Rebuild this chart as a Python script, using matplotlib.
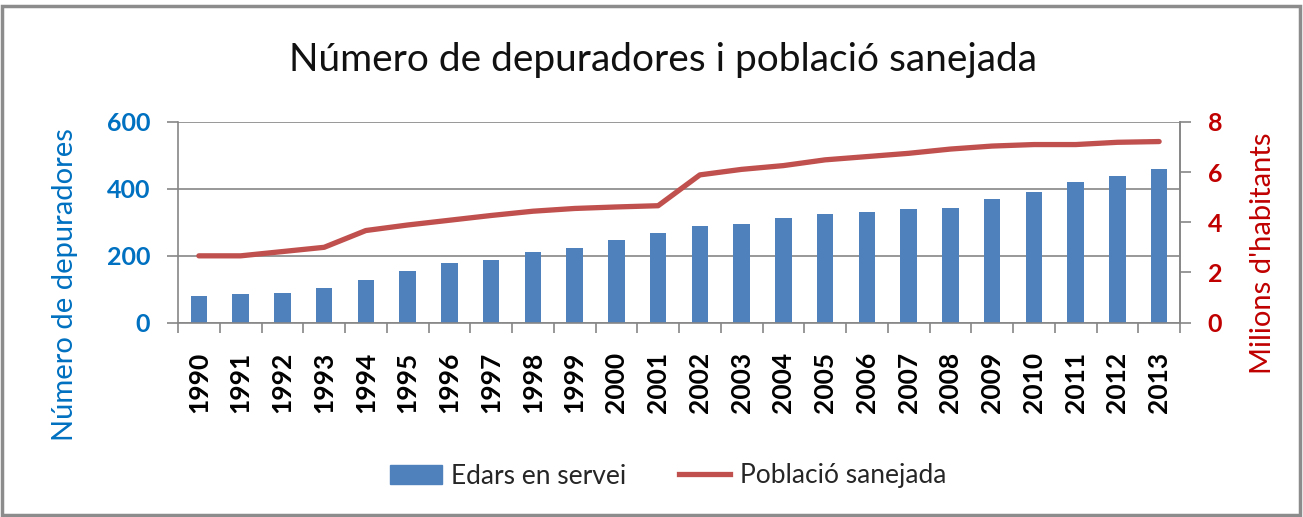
import matplotlib.pyplot as plt
import numpy as np
from matplotlib.patches import Patch, Rectangle
from matplotlib.lines import Line2D

# ---- data ----
years = [str(y) for y in range(1990, 2014)]
edars = [80, 85, 89, 102, 128, 155, 177, 186, 211, 224, 246, 268,
         290, 295, 312, 325, 330, 339, 343, 369, 392, 419, 439, 458]
poblacio = [2.66, 2.66, 2.83, 3.00, 3.67, 3.89, 4.08, 4.27, 4.44, 4.55, 4.61, 4.66,
            5.89, 6.11, 6.26, 6.49, 6.62, 6.75, 6.92, 7.04, 7.10, 7.10, 7.19, 7.22]
left_ticks = [0, 200, 400, 600]
right_ticks = [0, 2, 4, 6, 8]

BLUE_BAR = '#4F81BD'
RED_LINE = '#C0504D'
BLUE_TXT = '#0070C0'
RED_TXT = '#C00000'
GREY = '#868686'

plt.rcParams['font.family'] = ['Lato', 'DejaVu Sans']

W, H = 1303, 517
fig = plt.figure(figsize=(W / 100, H / 100), dpi=100)
ax = fig.add_axes([178 / W, 1 - 322.5 / H, (1180 - 178) / W, (322.5 - 122) / H])

x = np.arange(len(years))
ax.bar(x, edars, width=0.4, color=BLUE_BAR, zorder=2)
ax.set_xlim(-0.5, len(years) - 0.5)
ax.set_ylim(0, 600)
ax.set_yticks(left_ticks)
ax.set_yticklabels([str(t) for t in left_ticks], color=BLUE_TXT, fontsize=18, fontweight='bold')
ax.yaxis.grid(True, color=GREY, lw=1.2)
ax.set_axisbelow(True)

# category boundaries get the tick marks, labels sit in the middle
ax.set_xticks(np.arange(-0.5, len(years), 1))
ax.set_xticklabels([])
ax.set_xticks(x, minor=True)
ax.set_xticklabels(years, minor=True, rotation=90, fontsize=19, fontweight='bold', va='top')
ax.tick_params(axis='x', which='minor', length=0, pad=21)
ax.tick_params(axis='x', which='major', length=7, color=GREY, width=1.2)
ax.tick_params(axis='y', length=8, color=GREY, width=1.2, pad=12)

ax.spines['top'].set_visible(False)
for s in ['left', 'bottom', 'right']:
    ax.spines[s].set_color(GREY)
    ax.spines[s].set_linewidth(1.2)

ax.set_ylabel('Número de depuradores', color=BLUE_TXT, fontsize=21)
ax.yaxis.set_label_coords(-113 / (1180 - 178), 0.187)
ax.yaxis.label.set_va('center')

ax2 = ax.twinx()
ax2.plot(x, poblacio, color=RED_LINE, lw=3.8, solid_capstyle='round', zorder=3)
ax2.set_ylim(0, 8)
ax2.set_yticks(right_ticks)
ax2.set_yticklabels([str(t) for t in right_ticks], color=RED_TXT, fontsize=18, fontweight='bold')
ax2.tick_params(axis='y', length=8, color=GREY, width=1.2, pad=12)
ax2.spines['top'].set_visible(False)
ax2.spines['right'].set_color(GREY)
ax2.spines['right'].set_linewidth(1.2)
ax2.spines['left'].set_visible(False)
ax2.spines['bottom'].set_visible(False)
ax2.set_ylabel("Milions d'habitants", color=RED_TXT, fontsize=21, rotation=90)
ax2.yaxis.set_label_coords(1 + 83 / (1180 - 178), 0.347)
ax2.yaxis.label.set_va('center')

fig.text(663 / W, 1 - 60 / H, 'Número de depuradores i població sanejada',
         ha='center', va='center', fontsize=28, color='#111111')

handles = [Patch(color=BLUE_BAR), Line2D([], [], color=RED_LINE, lw=3.8)]
fig.legend(handles, ['Edars en servei', 'Població sanejada'], loc='center',
           bbox_to_anchor=(668 / W, 1 - 476 / H), ncol=2, frameon=False,
           fontsize=19, handlelength=1.95, handletextpad=0.35, columnspacing=2.0,
           labelcolor='#262626')

fig.patches.append(Rectangle((2 / W, 2 / H), (W - 5) / W, (H - 8) / H,
                             transform=fig.transFigure, fill=False,
                             edgecolor='#8C8C8C', lw=2.5))

fig.savefig('out.png', dpi=100)
